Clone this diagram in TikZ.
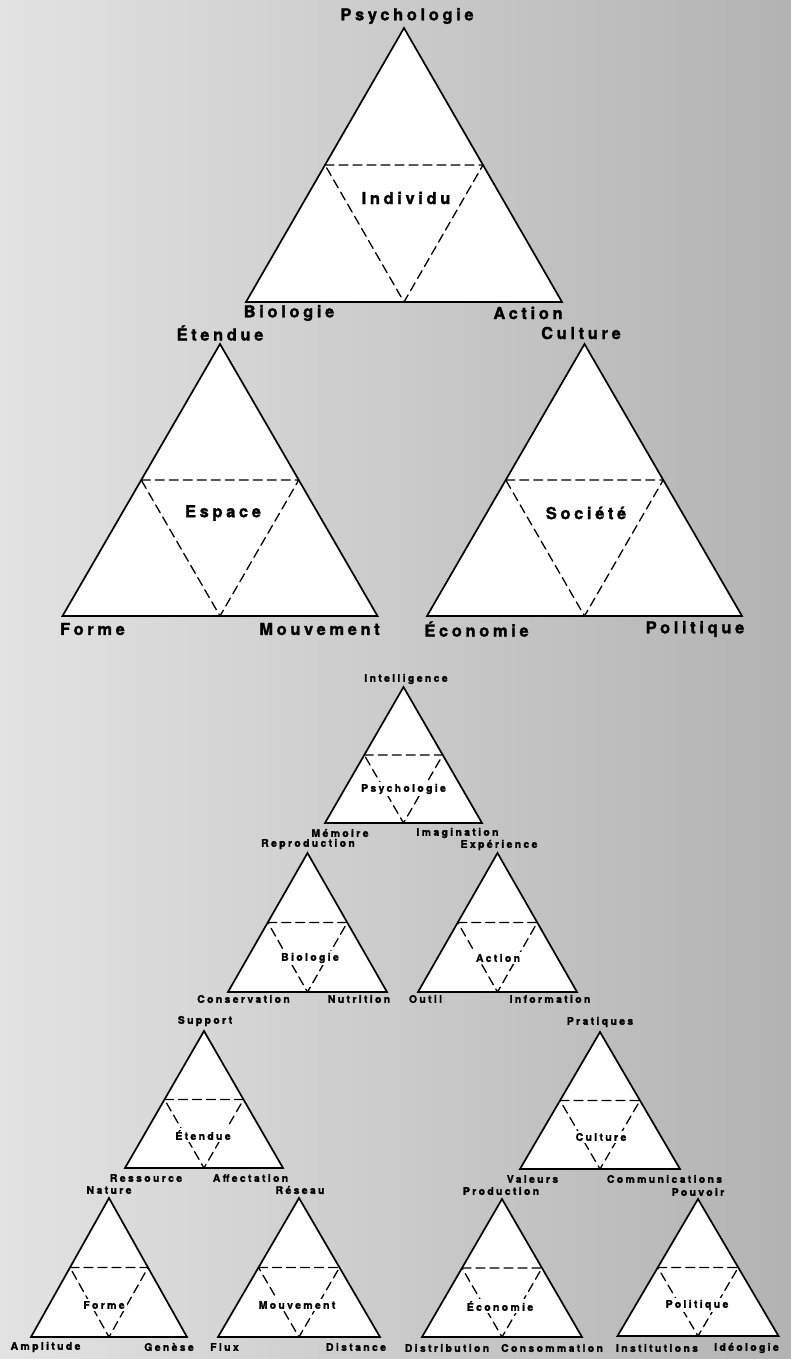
\documentclass[tikz,border=0pt]{standalone}
\usepackage{fontspec}
\newfontfamily\lblfont[LetterSpace=22, FakeBold=1.6, Extension=.otf, UprightFont=*-bold, BoldFont=*-bold]{texgyreheros}
\usepackage{tikz}
\usetikzlibrary{calc}

\tikzset{
  trishape/.style={draw=black, fill=white, line width=1.7pt, line join=miter},
  medial/.style={draw=black, dash pattern=on 9pt off 5pt, line width=1.3pt},
  biglbl/.style={font=\lblfont\fontsize{16.5}{18}\selectfont, inner sep=1pt},
  smalllbl/.style={font=\lblfont\fontsize{10.5}{12}\selectfont, inner sep=1pt},
  smallin/.style={smalllbl, inner sep=2pt, fill=white},
}

% name, apex x, apex y, width, height
\newcommand{\triad}[5]{%
  \coordinate (#1-t) at (#2,#3);
  \coordinate (#1-l) at ($(#1-t)+(-#4/2,#5)$);
  \coordinate (#1-r) at ($(#1-t)+(#4/2,#5)$);
  \filldraw[trishape] (#1-t) -- (#1-l) -- (#1-r) -- cycle;
  \draw[medial] ($(#1-t)!.5!(#1-l)$) -- ($(#1-t)!.5!(#1-r)$) -- ($(#1-l)!.5!(#1-r)$) -- cycle;
}

\begin{document}
\begin{tikzpicture}[x=1pt, y=-1pt, line cap=round, line join=round]
  \useasboundingbox (0,0) rectangle (791,1359);
  \shade[left color=black!11, right color=black!30] (0,0) rectangle (791,1359);

  % large triangles
  \triad{ind}{404}{28}{316}{274}
  \triad{esp}{220}{344}{315}{272}
  \triad{soc}{584.5}{344}{315}{272}

  \node[biglbl] (psy) at (407,16) {Psychologie};
  \node[biglbl] (indiv) at (406,198) {Individu};
  \node[biglbl] (bio) at (289,313) {Biologie};
  \node[biglbl] (act) at (528,313) {Action};

  \node[biglbl] (ete) at (220,333) {Étendue};
  \node[biglbl] (espace) at (223,513) {Espace};
  \node[biglbl] (for) at (92.5,629) {Forme};
  \node[biglbl] (mou) at (319.5,629) {Mouvement};

  \node[biglbl] (cul) at (581,333) {Culture};
  \node[biglbl] (societe) at (586,513) {Société};
  \node[biglbl] (eco) at (476.5,629) {Économie};
  \node[biglbl] (pol) at (695,629) {Politique};

  % small triangles
  \triad{spsy}{403.5}{687}{157}{136}
  \triad{sbio}{307.5}{853}{159}{139}
  \triad{sact}{497.5}{853}{159}{139}
  \triad{sete}{204}{1031}{158}{137}
  \triad{scul}{600}{1032}{160}{137}
  \triad{sfor}{109}{1198}{156}{139}
  \triad{smou}{299}{1198}{162}{139}
  \triad{seco}{502}{1199}{160}{138}
  \triad{spol}{698}{1199}{161}{137}

  \node[smalllbl] (intel) at (406,679) {Intelligence};
  \node[smallin] (psyin) at (403.5,789) {Psychologie};
  \node[smalllbl] (mem) at (340,833) {Mémoire};
  \node[smalllbl] (ima) at (457.5,833) {Imagination};

  \node[smalllbl] (rep) at (308,844) {Reproduction};
  \node[smallin] (bioin) at (310,958) {Biologie};
  \node[smalllbl] (cons) at (243.5,999) {Conservation};
  \node[smalllbl] (nut) at (359,999) {Nutrition};

  \node[smalllbl] (exp) at (499,845) {Expérience};
  \node[smallin] (actin) at (498,958) {Action};
  \node[smalllbl] (out) at (425.5,999) {Outil};
  \node[smalllbl] (inf) at (550,999) {Information};

  \node[smalllbl] (sup) at (205,1021) {Support};
  \node[smallin] (etein) at (203,1135) {Étendue};
  \node[smalllbl] (res) at (146,1178) {Ressource};
  \node[smalllbl] (aff) at (250.5,1178) {Affectation};

  \node[smalllbl] (pra) at (600,1022) {Pratiques};
  \node[smallin] (culin) at (601,1137) {Culture};
  \node[smalllbl] (val) at (532.5,1179) {Valeurs};
  \node[smalllbl] (com) at (664.5,1179) {Communications};

  \node[smalllbl] (nat) at (109,1190) {Nature};
  \node[smallin] (forin) at (104,1305) {Forme};
  \node[smalllbl] (amp) at (45.5,1347) {Amplitude};
  \node[smalllbl] (gen) at (169,1347) {Genèse};

  \node[smalllbl] (rese) at (300,1190) {Réseau};
  \node[smallin] (mouin) at (297,1305) {Mouvement};
  \node[smalllbl] (flu) at (224.5,1347) {Flux};
  \node[smalllbl] (dis) at (356,1347) {Distance};

  \node[smalllbl] (pro) at (501,1191) {Production};
  \node[smallin] (ecoin) at (500,1306) {Économie};
  \node[smalllbl] (dist) at (447,1348) {Distribution};
  \node[smalllbl] (conso) at (552,1348) {Consommation};

  \node[smalllbl] (pou) at (698,1192) {Pouvoir};
  \node[smallin] (polin) at (697,1305) {Politique};
  \node[smalllbl] (ins) at (657,1348) {Institutions};
  \node[smalllbl] (ide) at (746.5,1348) {Idéologie};
\end{tikzpicture}
\end{document}
